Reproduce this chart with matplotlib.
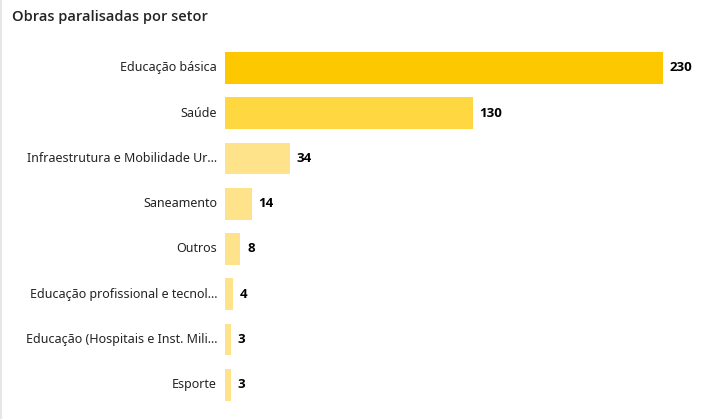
import matplotlib.pyplot as plt

categories = [
    "Educação básica",
    "Saúde",
    "Infraestrutura e Mobilidade Ur...",
    "Saneamento",
    "Outros",
    "Educação profissional e tecnol...",
    "Educação (Hospitais e Inst. Mili...",
    "Esporte",
]
values = [230, 130, 34, 14, 8, 4, 3, 3]
colors = ["#FDC800", "#FED741"] + ["#FEE38A"] * 6

plt.rcParams["font.family"] = ["Noto Sans", "DejaVu Sans"]

W, H = 704, 419
fig = plt.figure(figsize=(W / 100, H / 100), dpi=100)
fig.patch.set_facecolor("white")

ax = fig.add_axes([225 / W, (H - 407.5) / H, (663 - 225) / W, 362.3 / H])
y = list(range(len(categories)))
ax.barh(y, values, height=0.7, color=colors)
ax.set_xlim(0, 230)
ax.set_ylim(len(categories) - 0.5, -0.5)
ax.axis("off")

for i, (cat, v) in enumerate(zip(categories, values)):
    ax.annotate(cat, (0, i), xytext=(-8, 0), textcoords="offset pixels",
                ha="right", va="center", fontsize=9, color="#252423",
                annotation_clip=False)
    ax.annotate(str(v), (v, i), xytext=(7, 0), textcoords="offset pixels",
                ha="left", va="center", fontsize=9.5, fontweight="bold",
                family=["Open Sans", "DejaVu Sans"],
                color="black", annotation_clip=False)

fig.text(12 / W, 1 - 17 / H, "Obras paralisadas por setor", ha="left", va="center",
         fontsize=10.5, fontweight="semibold", family=["Open Sans", "DejaVu Sans"],
         color="#252423")

# faint panel border on the left
fig.add_artist(plt.Line2D([1 / W, 1 / W], [0, 1], color="#E6E6E6", lw=1.5))

fig.savefig("out.png", dpi=100)
